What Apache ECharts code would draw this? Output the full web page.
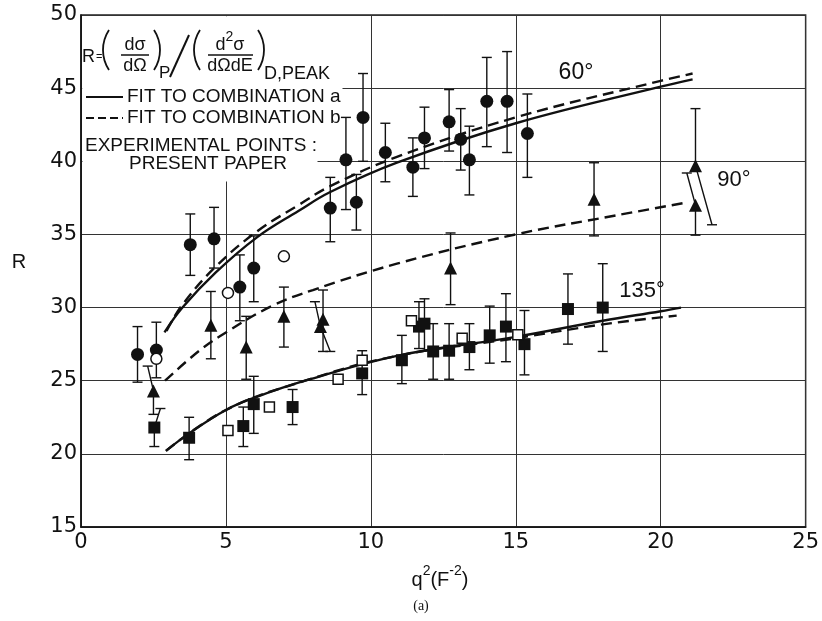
<!DOCTYPE html>
<html>
<head>
<meta charset="utf-8">
<script src="https://cdn.jsdelivr.net/npm/echarts@6/dist/echarts.min.js"></script>
<style>
html, body { margin: 0; padding: 0; background: #fff; }
#chart { width: 822px; height: 621px; }
</style>
</head>
<body>
<div id="chart"></div>
<script>
// [q2, R, low, high, xOfLowCap, xOfHighCap] - cap x only where the bar is drawn slanted
const points60 = [
    [1.95, 26.8, 24.9, 28.7], [2.6, 27.1, 25.2, 29.0], [3.77, 34.3, 32.2, 36.4],
    [4.59, 34.7, 32.7, 36.85], [5.48, 31.4, 29.1, 33.6], [5.96, 32.7, 30.4, 34.9],
    [8.6, 36.8, 34.5, 38.9], [9.14, 40.1, 36.7, 43.0], [9.5, 37.2, 35.3, 39.1],
    [9.73, 43.0, 40.0, 46.0], [10.5, 40.6, 38.6, 42.6], [11.45, 39.6, 37.6, 41.6],
    [11.85, 41.6, 39.5, 43.7], [12.7, 42.7, 40.7, 44.9], [13.1, 41.5, 39.4, 43.6],
    [13.4, 40.1, 37.7, 42.4], [14.0, 44.1, 41.0, 47.1], [14.7, 44.1, 40.6, 47.5],
    [15.4, 41.9, 38.9, 44.6]
];
const open60 = [[2.6, 26.5], [5.07, 31.0], [7.0, 33.5]];

const points90 = [
    [2.5, 24.3, 22.7, 26.0, 2.5, 2.3], [4.48, 28.8, 26.5, 31.1], [5.7, 27.3, 25.1, 29.4],
    [7.0, 29.4, 27.3, 31.4], [8.35, 29.2, 27.0, 31.2], [8.26, 28.7, 27.0, 30.4, 8.6, 8.07],
    [12.75, 32.7, 30.2, 35.1], [17.7, 37.4, 34.9, 39.9],
    [21.2, 39.7, 35.66, 43.6, 21.77, 21.2], [21.2, 37.0, 34.95, 39.2, 21.2, 20.9]
];

const points135 = [
    [2.53, 21.8, 20.5, 23.1, 2.53, 2.74], [3.73, 21.1, 19.6, 22.5], [5.6, 21.9, 20.5, 23.2],
    [5.96, 23.4, 21.4, 25.3], [7.3, 23.2, 22.0, 24.4], [9.7, 25.5, 24.05, 27.05],
    [11.07, 26.4, 24.8, 28.1], [11.66, 28.7, 27.2, 30.4], [11.85, 28.9, 27.05, 30.6],
    [12.15, 27.0, 25.1, 28.9], [12.7, 27.05, 25.1, 28.9], [13.4, 27.3, 25.75, 28.9],
    [14.1, 28.1, 26.2, 30.1], [14.66, 28.7, 26.3, 30.95], [15.3, 27.5, 25.4, 29.8],
    [16.8, 29.9, 27.5, 32.3], [18.0, 30.0, 27.0, 33.0]
];
const open135 = [[5.07, 21.6], [6.5, 23.2], [8.87, 25.1], [9.7, 26.4], [11.4, 29.1], [13.15, 27.9], [15.07, 28.15]];

// fit curves
const fit60a = [[2.88, 28.3], [3.5, 30.0], [4.65, 32.4], [6.07, 34.8], [7.5, 36.6], [8.6, 37.9], [10.9, 39.9], [15, 42.6], [20, 45.1], [21.1, 45.6]];
const fit60b = [[2.95, 28.4], [3.5, 30.2], [4.65, 32.8], [6.07, 35.2], [7.5, 37.0], [8.6, 38.3], [10.9, 40.3], [15, 43.0], [20, 45.5], [21.1, 46.0]];
const fit90b = [[2.9, 25.0], [4.08, 27.05], [5, 28.3], [6.58, 30.1], [8, 31.2], [10.9, 33.0], [15, 35.0], [18.46, 36.3], [20.95, 37.2]];
const fit135a = [[2.93, 20.2], [3.73, 21.4], [5.0, 23.0], [6.0, 23.85], [7.73, 25.0], [10.9, 26.7], [15, 28.0], [18, 29.1], [20, 29.75], [20.7, 30.0]];
const fit135b = [[2.93, 20.2], [5.0, 23.0], [7.73, 25.0], [10.9, 26.7], [15, 27.9], [18, 28.85], [20.55, 29.45]];

const xTicks = { min: 0, max: 25, interval: 5 };
const yTicks = { min: 15, max: 50, interval: 5 };

const FONT = 'Liberation Sans';
const TICK_FONT = 'DejaVu Sans';
const INK = '#111';

const chart = echarts.init(document.getElementById('chart'));

// error bar: low cap -> point -> high cap, caps drawn horizontal
function errorBar(params, api) {
    const pt = api.coord([api.value(0), api.value(1)]);
    const lo = api.coord([api.value(4), api.value(2)]);
    const hi = api.coord([api.value(5), api.value(3)]);
    const cap = 5;
    const style = { stroke: INK, lineWidth: 1.4, fill: null };
    return {
        type: 'group',
        children: [
            { type: 'polyline', shape: { points: [lo, pt, hi] }, style },
            { type: 'line', shape: { x1: lo[0] - cap, y1: lo[1], x2: lo[0] + cap, y2: lo[1] }, style },
            { type: 'line', shape: { x1: hi[0] - cap, y1: hi[1], x2: hi[0] + cap, y2: hi[1] }, style }
        ]
    };
}

const barData = pts => pts.map(d => [d[0], d[1], d[2], d[3], d[4] ?? d[0], d[5] ?? d[0]]);

const barSeries = pts => ({
    type: 'custom',
    renderItem: errorBar,
    data: barData(pts),
    encode: { x: 0, y: 1 },
    silent: true,
    z: 3
});

const markSeries = (pts, symbol, size, open) => ({
    type: 'scatter',
    data: pts.map(d => [d[0], d[1]]),
    symbol,
    symbolSize: size,
    itemStyle: open
        ? { color: '#fff', borderColor: INK, borderWidth: 1.5, opacity: 1 }
        : { color: INK, opacity: 1 },
    silent: true,
    z: 4
});

const fitSeries = (pts, dashed) => ({
    type: 'line',
    data: pts,
    smooth: 0.4,
    showSymbol: false,
    silent: true,
    lineStyle: { color: INK, width: 2.4, type: dashed ? [11, 6] : 'solid' },
    z: 2
});

const text = (x, y, str, size, extra) => ({
    type: 'text', x, y, z: 10,
    style: Object.assign({ text: str, font: `${size}px "${FONT}"`, fill: INK, verticalAlign: 'middle', align: 'left' }, extra || {})
});

// thin bracket drawn as a shallow arc
const paren = (xEdge, cy, half, bulge, left) => {
    const r = (half * half + bulge * bulge) / (2 * bulge);
    const a = Math.asin(half / r);
    return {
        type: 'arc', z: 10,
        shape: left
            ? { cx: xEdge + r, cy, r, startAngle: Math.PI - a, endAngle: Math.PI + a }
            : { cx: xEdge - r, cy, r, startAngle: -a, endAngle: a },
        style: { stroke: INK, lineWidth: 1.8, fill: null }
    };
};

const option = {
    animation: false,
    backgroundColor: '#fff',
    grid: { left: 81, top: 15, width: 729, height: 512, show: true, borderColor: '#222', borderWidth: 1.5 },
    xAxis: {
        type: 'value', ...xTicks,
        axisLine: { show: true, lineStyle: { color: INK, width: 1.5 } },
        axisTick: { show: false },
        axisLabel: { fontFamily: TICK_FONT, fontSize: 21, color: INK, margin: 5 },
        splitLine: { show: true, lineStyle: { color: '#333', width: 1 } }
    },
    yAxis: {
        type: 'value', ...yTicks,
        axisLine: { show: true, lineStyle: { color: INK, width: 1.5 } },
        axisTick: { show: false },
        axisLabel: { fontFamily: TICK_FONT, fontSize: 21, color: INK, margin: 4 },
        splitLine: { show: true, lineStyle: { color: '#333', width: 1 } }
    },
    series: [
        fitSeries(fit60a, false), fitSeries(fit60b, true), fitSeries(fit90b, true),
        fitSeries(fit135a, false), fitSeries(fit135b, true),
        barSeries(points60), barSeries(points90), barSeries(points135),
        markSeries(points60, 'circle', 13, false),
        markSeries(points90, 'triangle', 13, false),
        markSeries(points135, 'rect', 12, false),
        markSeries(open60, 'circle', 11, true),
        markSeries(open135, 'rect', 10, true)
    ],
    graphic: { elements: [
        // the key blanks the grid behind it
        { type: 'rect', z: 1, shape: { x: 82.5, y: 16.5, width: 260, height: 88 }, style: { fill: '#fff' } },
        { type: 'rect', z: 1, shape: { x: 82.5, y: 16.5, width: 235, height: 165 }, style: { fill: '#fff' } },

        text(82, 57, 'R', 18),
        text(96, 57, '=', 11),
        paren(103, 50, 20, 6, true),
        text(135, 45, 'dσ', 18, { align: 'center' }),
        { type: 'line', z: 10, shape: { x1: 121, y1: 55, x2: 149, y2: 55 }, style: { stroke: INK, lineWidth: 1.5 } },
        text(135, 66, 'dΩ', 18, { align: 'center' }),
        paren(160, 50, 20, 6, false),
        text(159, 73, 'P', 17),
        { type: 'line', z: 10, shape: { x1: 170, y1: 77, x2: 189, y2: 35 }, style: { stroke: INK, lineWidth: 2 } },
        paren(194, 50, 20, 6, true),
        {
            type: 'text', x: 230, y: 42, z: 10,
            style: {
                text: '{n|d}{s|2}{n|σ}', align: 'center', verticalAlign: 'middle', fill: INK,
                rich: {
                    n: { fontFamily: FONT, fontSize: 18, fill: INK, verticalAlign: 'bottom', lineHeight: 24 },
                    s: { fontFamily: FONT, fontSize: 14, fill: INK, verticalAlign: 'top', lineHeight: 24 }
                }
            }
        },
        { type: 'line', z: 10, shape: { x1: 208, y1: 55, x2: 253, y2: 55 }, style: { stroke: INK, lineWidth: 1.5 } },
        text(230, 66, 'dΩdE', 18, { align: 'center' }),
        paren(264, 50, 20, 6, false),
        text(264, 74, 'D,PEAK', 18),

        { type: 'line', z: 10, shape: { x1: 86, y1: 97, x2: 123, y2: 97 }, style: { stroke: INK, lineWidth: 2 } },
        text(127, 97, 'FIT TO COMBINATION a', 19),
        { type: 'line', z: 10, shape: { x1: 86, y1: 118, x2: 123, y2: 118 }, style: { stroke: INK, lineWidth: 2, lineDash: [8, 4] } },
        text(127, 118, 'FIT TO COMBINATION b', 19),
        text(85, 146, 'EXPERIMENTAL POINTS :', 19),
        text(208, 164, 'PRESENT PAPER', 19, { align: 'center' }),

        text(576, 73, '60°', 23, { align: 'center' }),
        text(734, 180, '90°', 22, { align: 'center' }),
        text(642, 291, '135°', 22, { align: 'center' }),

        text(19, 262, 'R', 20, { align: 'center' }),
        {
            type: 'text', x: 440, y: 577, z: 10,
            style: {
                text: '{b|q}{s|2}{b|(F}{s|-2}{b|)}', align: 'center', verticalAlign: 'middle', fill: INK,
                rich: {
                    b: { fontFamily: FONT, fontSize: 20, fill: INK, verticalAlign: 'bottom', lineHeight: 26 },
                    s: { fontFamily: FONT, fontSize: 14, fill: INK, verticalAlign: 'top', lineHeight: 26 }
                }
            }
        },
        text(421, 606, '(a)', 14, { align: 'center', font: '14px "Liberation Serif"' })
    ] }
};

chart.setOption(option);
</script>
</body>
</html>
